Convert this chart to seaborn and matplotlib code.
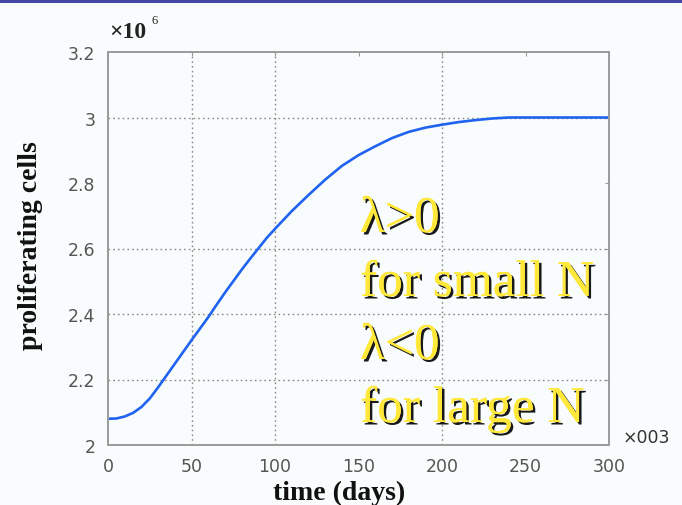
import matplotlib
matplotlib.use("Agg")
import matplotlib.pyplot as plt
import matplotlib.patheffects as pe
from matplotlib.patches import Rectangle
import seaborn as sns
import pandas as pd

# Simulated proliferating cell population (millions) over time (days)
time_days = [0, 5, 10, 15, 20, 25, 30, 35, 40, 45, 50, 55, 60, 65, 70, 75, 80, 85,
             90, 95, 100, 110, 120, 130, 140, 150, 160, 170, 180, 190, 200, 210,
             220, 230, 240, 250, 275, 300]
cells_millions = [2.080, 2.081, 2.087, 2.098, 2.116, 2.142, 2.176, 2.212, 2.248, 2.284,
                  2.320, 2.355, 2.390, 2.428, 2.465, 2.500, 2.535, 2.568, 2.600, 2.632,
                  2.660, 2.714, 2.763, 2.810, 2.852, 2.885, 2.912, 2.937, 2.956, 2.969,
                  2.978, 2.986, 2.992, 2.997, 3.000, 3.000, 3.000, 3.000]

x_ticks = [0, 50, 100, 150, 200, 250, 300]
y_ticks = [2.0, 2.2, 2.4, 2.6, 2.8, 3.0, 3.2]
y_tick_labels = ["2", "2.2", "2.4", "2.6", "2.8", "3", "3.2"]
x_grid = [50, 100, 200]
y_grid = [2.2, 2.4, 2.6, 3.0]

annotation_lines = ["λ>0", "for small N", "λ<0", "for large N"]

sns.set_theme(style="white")
plt.rcParams["font.family"] = ["DejaVu Sans"]

bg = "#f9fcfc"
fig = plt.figure(figsize=(6.82, 5.06), dpi=100, facecolor=bg)
ax = fig.add_axes([108 / 682, 60 / 506, 501 / 682, 393 / 506])
ax.set_facecolor(bg)

df = pd.DataFrame({"time": time_days, "cells": cells_millions})
sns.lineplot(data=df, x="time", y="cells", ax=ax, color="#1f63f0", linewidth=1.9)

# sparse dotted grid, drawn under the curve
for gx in x_grid:
    ax.axvline(gx, color="#8a8a8a", linestyle=(0, (1.2, 2.2)), linewidth=1.0, zorder=0)
for gy in y_grid:
    ax.axhline(gy, color="#8a8a8a", linestyle=(0, (1.2, 2.2)), linewidth=1.0, zorder=0)

ax.set_xlim(0, 300)
ax.set_ylim(2.0, 3.2)
ax.set_xticks(x_ticks)
ax.set_yticks(y_ticks)
ax.set_yticklabels(y_tick_labels)
ax.tick_params(axis="both", which="both", direction="in", length=3, width=0.8,
               color="#999999", labelsize=12.5, labelcolor="#555555",
               top=True, right=True, pad=9)
for s in ax.spines.values():
    s.set_color("#9a9a9a")
    s.set_linewidth(1.4)

ax.set_xlabel("")
ax.set_ylabel("")
fig.text(339 / 682, 1 - 493 / 506, "time (days)", family="Liberation Serif",
         fontweight="bold", fontsize=20, color="#111111", ha="center", va="center")
fig.text(31 / 682, 1 - 246 / 506, "proliferating cells", family="Liberation Serif",
         fontweight="bold", fontsize=20, color="#111111", ha="center", va="center",
         rotation=90)

# exponent labels
fig.text(109 / 682, 1 - 38 / 506, "×10", family="Liberation Serif", fontweight="bold",
         fontsize=17, color="#222222", ha="left", va="baseline")
fig.text(152 / 682, 1 - 24 / 506, "6", family="Liberation Serif", fontsize=9,
         color="#222222", ha="left", va="baseline")
fig.text(623 / 682, 1 - 443 / 506, "×003", family="DejaVu Sans", fontsize=12.5,
         color="#333333", ha="left", va="baseline")

# yellow annotation with drop shadow
baselines = [233, 297, 360, 423]
for line, yb in zip(annotation_lines, baselines):
    fig.text(360 / 682, 1 - yb / 506, line, family="Liberation Serif", fontsize=37,
             color="#ffe83a", ha="left", va="baseline",
             path_effects=[pe.withSimplePatchShadow(offset=(1.8, -1.8),
                                                    shadow_rgbFace="black", alpha=0.9),
                           pe.Normal()])

# title bar strip along the top edge
fig.patches.append(Rectangle((0, 1 - 4 / 506), 1, 4 / 506, transform=fig.transFigure,
                             facecolor="#4646a6", edgecolor="none", zorder=5))

fig.savefig("out.png", dpi=100, facecolor=bg)
